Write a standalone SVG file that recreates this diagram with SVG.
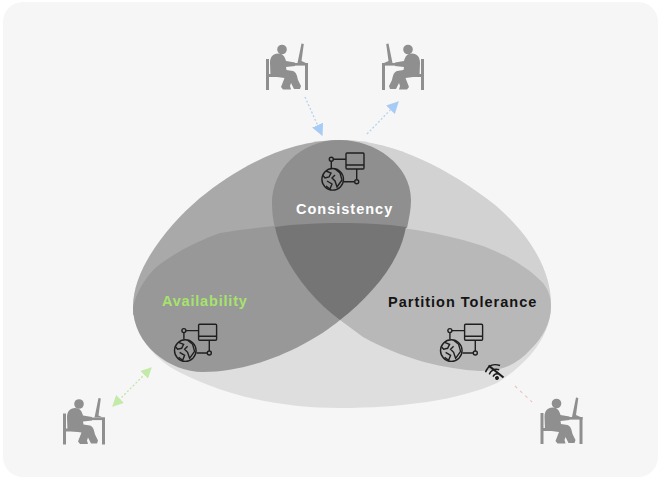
<svg xmlns="http://www.w3.org/2000/svg" width="663" height="480" viewBox="0 0 663 480">
<style>
.lbl{font-family:"Liberation Sans",Arial,sans-serif;font-weight:700;font-size:14.5px;letter-spacing:1px}
.ic{fill:none;stroke:#1f1f1f;stroke-width:1.4}
.blue{stroke:#b4d2f2;fill:none;stroke-width:1.3;stroke-dasharray:2 2}
.green{stroke:#c0e6a8;fill:none;stroke-width:1.3;stroke-dasharray:2 2}
.red{stroke:#eec0bc;fill:none;stroke-width:1.1;stroke-dasharray:3 4}
</style>
<defs>
<marker id="ab" markerWidth="12" markerHeight="12" refX="9" refY="5" orient="auto-start-reverse" markerUnits="userSpaceOnUse" viewBox="0 0 10 10"><path d="M0 0L10 5L0 10Z" fill="#a6cbf5"/></marker>
<marker id="ag" markerWidth="11" markerHeight="11" refX="9" refY="5" orient="auto-start-reverse" markerUnits="userSpaceOnUse" viewBox="0 0 10 10"><path d="M0 0L10 5L0 10Z" fill="#c3eaa9"/></marker>
<g id="person" fill="#8f8f8f">
<circle cx="17" cy="7.500" r="4.800"/>
<rect x="1" y="17" width="3" height="31"/>
<rect x="3" y="32" width="16" height="3"/>
<rect x="40" y="21" width="3" height="27"/>
<rect x="23" y="21" width="20" height="2.600"/>
<path d="M5.500 34L5 21C5 15 8 11.500 13 11.500C18 11.500 20 15 21 19L30 20.500L30 24L21 25L21.500 28L28 29C31 30 32 33 33 38L36 44L35 47L29 47L26 41L25 44L26 47.500L18 47.500L16 45L19.500 36L12 35Z"/>
<path d="M32.500 21L36.500 1.500L38.800 2L36.500 19L41 21Z"/>
</g>
<g id="net">
<rect class="ic" x="346" y="153" width="18" height="16" rx="1"/>
<path class="ic" d="M346 165H364M333.300 159.300H346M331.300 161.300V168M356.700 169V179.700M344 181.700H354.700"/>
<circle class="ic" cx="331.300" cy="159.300" r="2"/>
<circle class="ic" cx="356.700" cy="181.700" r="2"/>
<circle class="ic" cx="332.700" cy="179.300" r="10.800"/>
<path class="ic" d="M326 171L331 173L329 177L325 178L322.500 175M335 169L340 173L342 180L337 187L335 181L332 178L335 175M327 181L332 184L330 189L326 186"/>
</g>
</defs>
<rect width="663" height="480" fill="#ffffff"/>
<rect x="3" y="2" width="655" height="475" rx="20" fill="#f6f6f6"/>
<g id="diagram-regions">
<path id="silhouette" fill="#dedede" d="M133 307C133 270 165 228 200 198C240 165 290 140 340 140C395 140 450 170 495 205C530 235 551 270 551 305C551 335 530 362 497 383C460 400 400 408 340 408C275 408 215 393 170 367C148 352 133 330 133 307Z"/>
<path id="top-right" fill="#d2d2d2" d="M340 140C395 140 450 170 495 205C530 235 551 270 551 305L340 224Z"/>
<path id="top-left" fill="#a9a9a9" d="M133 307C133 270 165 228 200 198C240 165 290 140 340 140V224L133 315Z"/>
</g>
<g id="availability">
<path fill="#989898" d="M133 307C137 290 148 272 163 262C180 250 200 240 220 233C255 227 300 223 340 223L407 226L340 320C310 345 255 372 203 372C170 372 133 345 133 307Z"/>
<use href="#net" x="-147.400" y="171.300"/>
<text class="lbl" x="162" y="306" fill="#a6e36d" style="letter-spacing:.8px">Availability</text>
</g>
<g id="partition">
<path fill="#b8b8b8" d="M340 223C385 224 425 230 463 240C495 248 525 264 543 283C549 291 551 298 551 307C551 322 543 338 530 350C518 363 505 371 480 371C445 369 405 360 363 337L340 320Z"/>
<use href="#net" x="118.600" y="171.300"/>
<text class="lbl" x="388" y="307" fill="#141414">Partition Tolerance</text>
</g>
<g id="consistency">
<path fill="#8f8f8f" d="M340 140C375 140 411 165 411 200C411 210 409 218 407 228L275 228C273 220 272 212 272 203C272 170 300 140 340 140Z"/>
<path id="center" fill="#757575" d="M275 227C295 224 320 223 340 223C365 223 385 224 406 227C400 262 372 295 340 320C310 298 282 262 275 227Z"/>
<use href="#net"/>
<text class="lbl" x="296" y="214" fill="#ffffff">Consistency</text>
</g>
<g id="connectors">
<path class="blue" d="M305 97L322 135" marker-end="url(#ab)"/>
<path class="blue" d="M367 134L398 102" marker-end="url(#ab)"/>
<path class="green" d="M113 406L151 368" marker-start="url(#ag)" marker-end="url(#ag)"/>
<path class="red" d="M515 386L532 402"/>
</g>
<g id="user-1"><use href="#person" transform="translate(265 42)"/></g>
<g id="user-2"><use href="#person" transform="translate(425 42) scale(-1 1)"/></g>
<g id="user-3"><use href="#person" transform="translate(62 396.500)"/></g>
<g id="user-4"><use href="#person" transform="translate(539.500 396)"/></g>
<g id="wifi-off" fill="none" stroke="#1a1a1a" stroke-width="1.500">
<g transform="rotate(-25 497 378)">
<path d="M489 368C494 363 500 363 505 368M491.500 371.500C495 368.500 499 368.500 502.500 371.500M494 375C496 373.500 498 373.500 500 375"/>
<circle cx="497" cy="378" r="2" fill="#1a1a1a" stroke="none"/>
</g>
<path d="M488.500 365.500L503.500 377.500" stroke-width="2.200"/>
</g>
</svg>
